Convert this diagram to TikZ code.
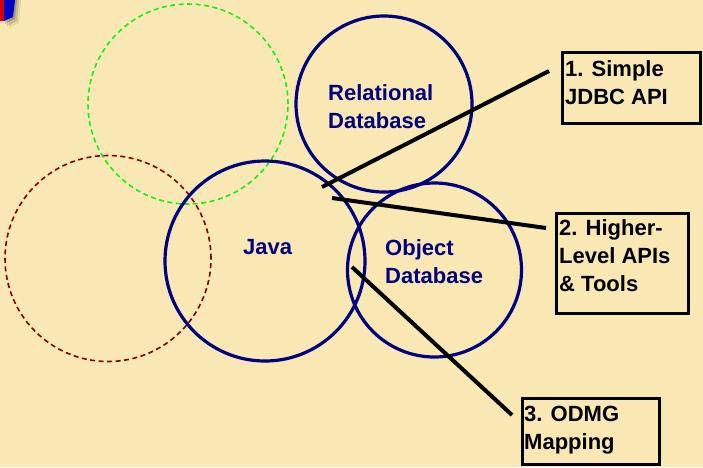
\documentclass[tikz,border=0pt]{standalone}
\usepackage{fontspec}
\setmainfont{Liberation Sans}
\definecolor{bg}{RGB}{250,232,180}
\definecolor{navy}{RGB}{0,0,128}
\definecolor{dgreen}{RGB}{20,240,20}
\definecolor{dred}{RGB}{128,0,0}
\tikzset{
  navycirc/.style={draw=navy, line width=3.2pt, circle, inner sep=0pt},
  dashcirc/.style={circle, inner sep=0pt, line width=1.6pt, dash pattern=on 5pt off 3.5pt},
  callbox/.style={draw=black, line width=3pt, rectangle, inner sep=0pt, anchor=north west},
  calltext/.style={font=\bfseries\fontsize{22}{28}\selectfont, align=left, inner sep=0pt, anchor=north west, text=black},
  circtext/.style={font=\bfseries\fontsize{22}{28}\selectfont, align=left, inner sep=0pt, anchor=north west, text=navy},
  leader/.style={draw=black, line width=4pt}
}
\begin{document}
\begin{tikzpicture}[x=1pt,y=-1pt]
\fill[bg] (0,0) rectangle (703,467);
\useasboundingbox (0,0) rectangle (703,467);
% corner icon (partially visible)
\foreach \o/\a in {6/0.08,4/0.12,2/0.18}{
  \fill[black, opacity=\a] (3+\o,0) -- (15+\o,0) -- (13+\o,17+\o) -- (3+\o,22+\o) -- cycle;
}
\fill[red!85!black] (0,0) rectangle (4,21);
\fill[blue!60!navy] (4,0) -- (15,0) -- (13,17) -- (4,21) -- cycle;
% circles
\node[dashcirc, draw=dgreen, minimum size=200pt] (green) at (188,104) {};
\node[dashcirc, draw=dred, minimum size=206pt] (redc) at (108,258.5) {};
\node[navycirc, minimum size=200pt] (java) at (265,261) {};
\node[navycirc, minimum size=176pt] (rel) at (384,104) {};
\node[navycirc, minimum size=174pt] (obj) at (434.5,270) {};
% boxes
\node[callbox, minimum width=138pt, minimum height=71pt] (b1) at (561,51) {};
\node[callbox, minimum width=132pt, minimum height=100pt] (b2) at (555,212) {};
\node[callbox, minimum width=137pt, minimum height=66pt] (b3) at (521,397) {};
\node[calltext] (t1) at (565,60) {1. Simple\\JDBC API};
\node[calltext] (t2) at (559,219) {2. Higher-\\Level APIs\\\& Tools};
\node[calltext] (t3) at (524,406) {3. ODMG\\Mapping};
% labels
\node[circtext] (lrel) at (328,84) {Relational\\Database};
\node[circtext] (lobj) at (385,239) {Object\\Database};
\node[circtext, anchor=base west] (ljava) at (243,254) {Java};
% leader lines
\coordinate (p1a) at (322,187);
\coordinate (p1b) at (549,71);
\coordinate (p2a) at (332,198);
\coordinate (p2b) at (546,228);
\coordinate (p3a) at (352,267);
\coordinate (p3b) at (512,415);
\draw[leader] (p1a) -- (p1b);
\draw[leader] (p2a) -- (p2b);
\draw[leader] (p3a) -- (p3b);
\end{tikzpicture}
\end{document}
